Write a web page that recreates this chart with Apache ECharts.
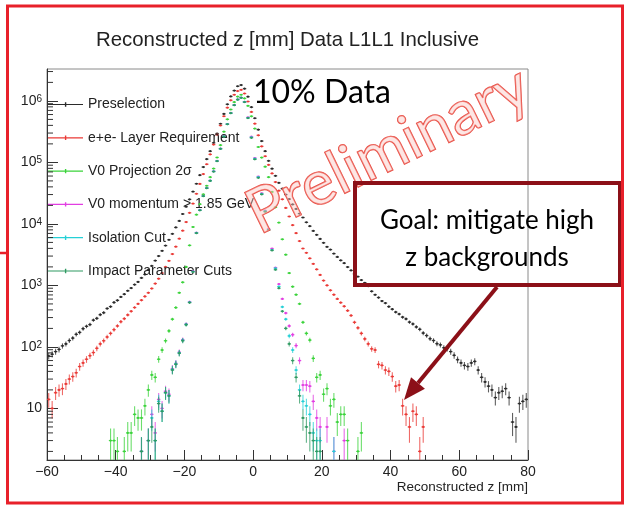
<!DOCTYPE html>
<html><head><meta charset="utf-8">
<script src="https://cdn.jsdelivr.net/npm/echarts@6/dist/echarts.min.js"></script>
<style>html,body{margin:0;padding:0;background:#fff;}#c{width:626px;height:508px;}</style>
</head><body><div id="c"></div>
<script>
const _ = null;
// Histogram binning: 140 bins of 1 mm from -60 to 80 mm
const binMin = -60, binWidth = 1;
const seriesNames = ['Preselection', 'e+e- Layer Requirement', 'V0 Projection 2\u03c3',
  'V0 momentum > 1.85 GeV', 'Isolation Cut', 'Impact Parameter Cuts'];
const xTickValues = [-60, -40, -20, 0, 20, 40, 60, 80];
const yDecades = [10, 100, 1000, 10000, 100000, 1000000];

// counts per bin (bin centres -59.5 ... 79.5)
const preselection = [
 71,76,84,91,104,112,127,139,160,172,
 198,216,231,272,291,334,360,421,452,528,
 571,650,719,818,905,1030,1141,1325,1507,1790,
 2075,2530,3004,3650,4440,5520,6890,8750,11180,14500,
 19000,25000,33500,45000,62000,84000,113000,152000,208000,295000,
 425000,615000,880000,1180000,1470000,1730000,1810000,1580000,1170000,790000,
 522000,341000,222000,152000,106000,79000,60500,46500,37400,30000,
 25300,20700,17500,14700,12700,10600,9180,7700,6650,5700,
 4930,4240,3820,3290,2900,2550,2300,1990,1750,1540,
 1390,1220,1105,970,800,705,635,558,516,452,
 410,368,342,305,285,253,236,211,193,168,
 153,136,127,113,108,97,94,84,73,62,
 55,50,48,55,58,42,32,27,23,20,
 15,18,19,21,15,6,5,12,13,14];
const layerReq = [
 14,10,18,20,21,25,30,33,38,48,
 55,63,72,81,95,112,126,145,166,191,
 219,257,288,331,380,437,501,575,661,759,
 891,1072,1288,1585,1995,2512,3236,4266,5754,7762,
 10720,15140,21380,30900,44670,64570,93330,134900,195000,281800,
 398100,562300,776200,1023000,1259000,1445000,1514000,1318000,977000,660700,
 426600,275400,182000,125900,91200,66100,47900,34700,25100,18200,
 13200,9550,7080,5250,3980,3390,2750,2240,1820,1480,
 1200,1000,832,708,603,525,457,389,324,251,
 204,166,135,112,93,89,52,50,42,40,
 33,23,24,11,8,5,9,8,2,5,
 _,_,_,_,_,_,_,_,_,_,
 _,_,_,_,_,_,_,_,_,_,
 _,_,_,_,_,_,_,_,_,_];
const v0Projection = [
 _,_,_,_,_,_,_,_,_,_,
 _,_,_,_,_,_,_,_,3,3,
 2,_,2,4,4,8,7,7,11,20,
 35,32,63,89,126,182,282,436,759,1122,
 1995,4467,8913,14125,20893,30200,41700,57500,79400,120200,
 190500,316200,501200,724400,955000,1175000,1259000,1096000,832000,562000,
 355000,178000,120000,85100,57500,33100,18600,10500,5620,3160,
 1585,955,708,501,251,166,129,65,32,35,
 17,21,11,14,6,8,8,3,_,_,
 2,4,_,_,_,_,_,_,_,_,
 _,_,_,_,_,_,_,_,_,_,
 _,_,_,_,_,_,_,_,_,_,
 _,_,_,_,_,_,_,_,_,_,
 _,_,_,_,_,_,_,_,_,_];
const v0Momentum = [
 _,_,_,_,_,_,_,_,_,_,
 _,_,_,_,_,_,_,_,_,_,
 _,_,_,_,_,_,_,2,_,3,
 8,4,14,10,19,17,44,54,82,131,
 236,540,1700,7200,16900,28600,38500,50800,71900,106000,
 168000,266000,421000,637000,860000,1058000,1134000,968000,540000,262000,
 118000,59000,31500,16500,8300,3980,1950,1050,603,355,
 219,158,105,60,24,24,23,13,7,5,
 _,5,_,2,_,_,3,_,_,_,
 _,_,_,_,_,_,_,_,_,_,
 _,_,_,_,_,_,_,_,_,_,
 _,_,_,_,_,_,_,_,_,_,
 _,_,_,_,_,_,_,_,_,_,
 _,_,_,_,_,_,_,_,_,_];
const isolation = [
 _,_,_,_,_,_,_,_,_,_,
 _,_,_,_,_,_,_,_,_,_,
 _,_,_,_,_,_,_,2,_,3,
 7,3,13,9,18,16,43,53,80,128,
 232,532,1680,7140,16700,28400,38200,50400,71300,105300,
 167000,264500,419000,634000,855000,1052000,1128000,961000,532000,256000,
 115000,57600,30800,16100,8100,3800,1900,960,447,282,
 151,89,42,20,13,11,8,4,3,3,
 _,_,_,2,_,_,_,_,_,_,
 _,_,_,_,_,_,_,_,_,_,
 _,_,_,_,_,_,_,_,_,_,
 _,_,_,_,_,_,_,_,_,_,
 _,_,_,_,_,_,_,_,_,_,
 _,_,_,_,_,_,_,_,_,_];
const impactParam = [
 _,_,_,_,_,_,_,_,_,_,
 _,_,_,_,_,_,_,_,_,_,
 _,_,_,_,_,_,_,2,_,3,
 5,3,12,9,18,16,42,52,79,126,
 229,525,1660,7080,16600,28200,38000,50100,70800,104700,
 166000,263000,417000,631000,851000,1047000,1122000,955000,525000,251000,
 112000,56200,30200,15800,7940,3700,1800,900,380,200,
 112,60,32,16,7,5,4,3,2,2,
 _,_,_,_,_,_,_,_,_,_,
 _,_,_,_,_,_,_,_,_,_,
 _,_,_,_,_,_,_,_,_,_,
 _,_,_,_,_,_,_,_,_,_,
 _,_,_,_,_,_,_,_,_,_,
 _,_,_,_,_,_,_,_,_,_];

const allCounts = [preselection, layerReq, v0Projection, v0Momentum, isolation, impactParam];
const colors = ['#2b2b2b', '#ea3a36', '#3bd33b', '#e23ee2', '#25d0d6', '#2f9a62'];

const yMin = 1.45, yMax = 3.3e6, xMin = -60, xMax = 80;
const FONT = '"Liberation Sans", Arial, Helvetica, sans-serif';

function toData(arr) {
  const out = [];
  arr.forEach((v, i) => { if (v != null) out.push([binMin + (i + 0.5) * binWidth, v]); });
  return out;
}

function makeRender(color) {
  return function (params, api) {
    const z = api.value(0), n = api.value(1);
    if (!(n >= yMin)) return null;
    const err = Math.sqrt(n);
    const lo = Math.max(n - err, yMin), hi = Math.min(n + err, yMax);
    const c = api.coord([z, n]);
    const pl = api.coord([z - binWidth / 2, n]);
    const pr = api.coord([z + binWidth / 2, n]);
    const plo = api.coord([z, lo]);
    const phi = api.coord([z, hi]);
    return {
      type: 'group',
      children: [
        { type: 'line', shape: { x1: pl[0], y1: c[1], x2: pr[0], y2: c[1] }, style: { stroke: color, lineWidth: 1.2, opacity: 0.9 } },
        { type: 'line', shape: { x1: c[0], y1: plo[1], x2: c[0], y2: phi[1] }, style: { stroke: color, lineWidth: 1.1, opacity: 0.75 } },
        { type: 'circle', shape: { cx: c[0], cy: c[1], r: 1.1 }, style: { fill: color } }
      ]
    };
  };
}

const chart = echarts.init(document.getElementById('c'), null, { renderer: 'canvas' });

const series = allCounts.map((arr, k) => ({
  name: seriesNames[k],
  type: 'custom',
  renderItem: makeRender(colors[k]),
  itemStyle: { color: colors[k] },
  encode: { x: 0, y: 1 },
  data: toData(arr),
  z: 2 + k
}));

const legendIcon = 'path://M0,8.4h35v1.2h-35z M16.9,6.8h1.4v4.4h-1.4z';

const option = {
  animation: false,
  backgroundColor: '#ffffff',
  title: {
    text: 'Reconstructed z [mm] Data L1L1 Inclusive',
    left: 91, top: 25,
    textStyle: { fontFamily: FONT, fontSize: 20.4, fontWeight: 'normal', color: '#222' }
  },
  legend: {
    orient: 'vertical', left: 43, top: 90.5,
    itemWidth: 35, itemHeight: 18, itemGap: 15.3,
    icon: legendIcon,
    textStyle: { fontFamily: FONT, fontSize: 14, color: '#222', lineHeight: 18 },
    data: seriesNames.map(n => ({ name: n, icon: legendIcon })),
    selectedMode: false
  },
  grid: { left: 47, top: 69, width: 481, height: 391, show: true, borderColor: '#8a8a8a', borderWidth: 1, containLabel: false },
  xAxis: {
    type: 'value', min: xMin, max: xMax, interval: 20,
    axisLine: { onZero: false, lineStyle: { color: '#333', width: 1 } },
    axisTick: { inside: true, length: 10, lineStyle: { color: '#333' } },
    minorTick: { show: true, splitNumber: 4, length: 5, lineStyle: { color: '#333' } },
    splitLine: { show: false },
    axisLabel: {
      margin: 5, fontFamily: FONT, fontSize: 14, color: '#222',
      formatter: v => (v < 0 ? '\u2212' + Math.abs(v) : String(v))
    },
    name: 'Reconstructed z [mm]', nameLocation: 'end', nameGap: 0,
    nameTextStyle: { fontFamily: FONT, fontSize: 13.5, color: '#222', align: 'right', verticalAlign: 'top', padding: [20, 0, 0, 0] }
  },
  yAxis: {
    type: 'log', logBase: 10, min: yMin, max: yMax,
    axisLine: { onZero: false, lineStyle: { color: '#333', width: 1 } },
    axisTick: { inside: true, length: 11, lineStyle: { color: '#333' } },
    splitLine: { show: false },
    axisLabel: {
      margin: 5, showMinLabel: false, showMaxLabel: false,
      fontFamily: FONT, fontSize: 14, color: '#222',
      formatter: v => {
        const e = Math.round(Math.log10(v));
        if (Math.abs(Math.pow(10, e) - v) / v > 1e-6) return '';
        if (e === 1) return '10';
        return '10{sup|' + e + '}';
      },
      rich: { sup: { fontSize: 10, verticalAlign: 'top', lineHeight: 10, fontFamily: FONT, color: '#222' } }
    }
  },
  series: series
};
chart.setOption(option);

// overlay: minor log ticks (2..9 x 10^n) computed through the axis scale
const g = [];
const gridLeft = chart.convertToPixel({ xAxisIndex: 0 }, xMin);
for (let d = 0; d <= 6; d++) {
  for (let k = 2; k <= 9; k++) {
    const v = k * Math.pow(10, d);
    if (v < yMin || v > yMax) continue;
    const py = chart.convertToPixel({ yAxisIndex: 0 }, v);
    g.push({ type: 'line', shape: { x1: gridLeft, y1: py, x2: gridLeft + 6, y2: py }, style: { stroke: '#333', lineWidth: 1 }, z: 50, silent: true });
  }
}
// red slide frame
g.push({ type: 'rect', shape: { x: 7.5, y: 6, width: 615, height: 497 }, style: { fill: 'none', stroke: '#e8202a', lineWidth: 3 }, z: 100 });
g.push({ type: 'line', shape: { x1: 0, y1: 253, x2: 8, y2: 253 }, style: { stroke: '#e8202a', lineWidth: 2.5 }, z: 100 });
// "10% Data"
g.push({ type: 'text', x: 253, y: 93, style: { text: '10% Data', font: '32px Lato, "Open Sans", sans-serif', fill: '#000', textVerticalAlign: 'middle', verticalAlign: 'middle' }, z: 90 });
// Preliminary stamp
g.push({ type: 'text', x: 388, y: 150, rotation: 26 * Math.PI / 180, style: {
  text: 'Preliminary', font: '62px Lato, "Open Sans", sans-serif',
  fill: 'rgba(250,200,196,0.45)', stroke: '#e84a40', lineWidth: 1.4,
  align: 'center', verticalAlign: 'middle', textAlign: 'center', textVerticalAlign: 'middle' }, z: 80 });
// callout box
g.push({ type: 'rect', shape: { x: 355, y: 183, width: 265, height: 102 }, style: { fill: 'none', stroke: '#8c1018', lineWidth: 4 }, z: 85 });
g.push({ type: 'text', x: 487, y: 221, style: { text: 'Goal: mitigate high', font: '26px Lato, "Open Sans", sans-serif', fill: '#000', align: 'center', verticalAlign: 'middle', textAlign: 'center', textVerticalAlign: 'middle' }, z: 86 });
g.push({ type: 'text', x: 487, y: 258, style: { text: 'z backgrounds', font: '26px Lato, "Open Sans", sans-serif', fill: '#000', align: 'center', verticalAlign: 'middle', textAlign: 'center', textVerticalAlign: 'middle' }, z: 86 });
// arrow
const ax1 = 497, ay1 = 287, ax2 = 404, ay2 = 400;
const ang = Math.atan2(ay2 - ay1, ax2 - ax1);
const headLen = 22, headHalf = 9;
const bx = ax2 - headLen * Math.cos(ang), by = ay2 - headLen * Math.sin(ang);
g.push({ type: 'line', shape: { x1: ax1, y1: ay1, x2: bx, y2: by }, style: { stroke: '#8c1018', lineWidth: 4 }, z: 87 });
g.push({ type: 'polygon', shape: { points: [[ax2, ay2],
  [bx + headHalf * Math.sin(ang), by - headHalf * Math.cos(ang)],
  [bx - headHalf * Math.sin(ang), by + headHalf * Math.cos(ang)]] }, style: { fill: '#8c1018' }, z: 87 });

chart.setOption({ graphic: { elements: g } });
</script>
</body></html>
